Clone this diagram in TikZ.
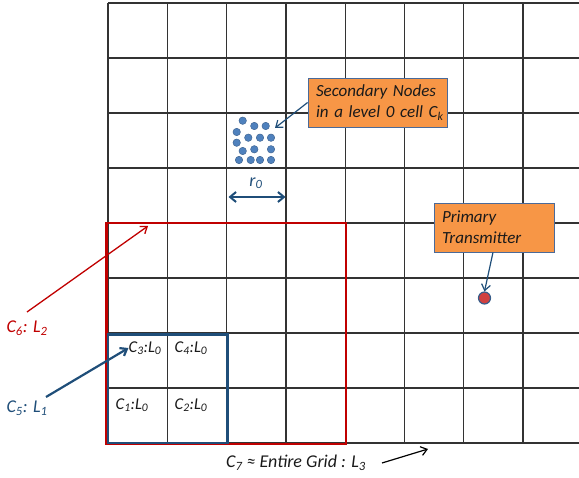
\documentclass[tikz,border=0pt]{standalone}
\usepackage{fontspec}
\setmainfont{Carlito}
\usetikzlibrary{arrows.meta}
\definecolor{gridc}{HTML}{333333}
\definecolor{boxor}{HTML}{F79646}
\definecolor{boxbd}{HTML}{4A6A99}
\definecolor{dotb}{HTML}{4F81BD}
\definecolor{dotbd}{HTML}{385D8A}
\definecolor{darkblue}{HTML}{1F4E79}
\definecolor{redc}{HTML}{C00000}
\definecolor{txt}{HTML}{1A1A1A}
\tikzset{
  gridline/.style={draw=gridc,line width=1.3pt},
  callout/.style={draw=boxbd,fill=boxor,line width=0.8pt,align=left,text=txt,font=\fontsize{17}{21}\selectfont\itshape,inner sep=0pt,anchor=center},
  sdot/.style={circle,fill=dotb,draw=dotbd,line width=0.4pt,minimum size=7.5pt,inner sep=0pt},
  celllab/.style={text=txt,font=\fontsize{16.5}{18}\selectfont\itshape,inner sep=0pt},
  arrow/.style={-{Straight Barb[length=6pt,width=9pt]},line width=1.3pt},
}
\begin{document}
\begin{tikzpicture}[x=1pt,y=-1pt]
\useasboundingbox (0,0) rectangle (579,478);
% grid
\foreach \k in {0,...,7} {\draw[gridline] ({108+59.3*\k},3) -- ({108+59.3*\k},443);}
\foreach \k in {0,...,8} {\draw[gridline] (108,{3+55*\k}) -- (579,{3+55*\k});}
% red and blue boxes
\draw[draw=redc,line width=2.6pt] (106.5,223) rectangle (346,444);
\draw[draw=darkblue,line width=2.2pt] (108,334.5) rectangle (227.5,443);
% secondary nodes
\foreach \n/\x/\y in {1/242.7/120.7,2/254.3/126,3/265.7/126,4/236.7/132,5/248.3/137.7,6/260/137.7,7/271/137.7,8/236.7/142.7,9/242.7/151,10/254.3/149.3,11/271/149.3,12/239/160,13/250.7/160,14/260/160,15/271/160}
  {\node[sdot] (s\n) at (\x,\y) {};}
\node[callout,minimum width=139pt,minimum height=49pt,text width=123pt] (sec) at (377.5,102.5) {\mbox{Secondary Nodes}\\\mbox{in a level 0 cell C\textsubscript{k}}};
\coordinate (secend) at (275,128);
\draw[arrow,darkblue,line width=1.2pt] (sec.west) -- (secend);
% r0
\coordinate (ra) at (228.5,197);
\coordinate (rb) at (285.5,197);
\draw[{Straight Barb[length=6pt,width=10pt]}-{Straight Barb[length=6pt,width=10pt]},darkblue,line width=2pt] (ra) -- (rb);
\node[text=darkblue,font=\fontsize{18}{20}\selectfont\itshape,inner sep=0pt] (r0) at (256,183) {r\textsubscript{0}};
% primary transmitter
\node[callout,minimum width=120pt,minimum height=49pt,text width=104pt] (prim) at (494,227.5) {Primary\\Transmitter};
\node[circle,fill=redc!75!white,draw=dotbd,line width=1.2pt,minimum size=12pt,inner sep=0pt] (tx) at (484.5,298) {};
\draw[arrow,darkblue,line width=1.2pt] (prim.south) ++(-1,0) -- (tx.north);
% cell labels
\node[celllab] (c3) at (145,348) {C\textsubscript{3}:L\textsubscript{0}};
\node[celllab] (c4) at (191,348) {C\textsubscript{4}:L\textsubscript{0}};
\node[celllab] (c1) at (132,405) {C\textsubscript{1}:L\textsubscript{0}};
\node[celllab] (c2) at (191,405) {C\textsubscript{2}:L\textsubscript{0}};
% C6 and C5 labels
\node[text=redc,font=\fontsize{18}{20}\selectfont\itshape,inner sep=0pt] (c6) at (27,328) {C\textsubscript{6}: L\textsubscript{2}};
\coordinate (c6s) at (27,312);
\coordinate (c6e) at (148,226);
\draw[arrow,redc,line width=1.3pt] (c6s) -- (c6e);
\node[text=darkblue,font=\fontsize{18}{20}\selectfont\itshape,inner sep=0pt] (c5) at (27,408) {C\textsubscript{5}: L\textsubscript{1}};
\coordinate (c5s) at (46,397);
\draw[arrow,darkblue,line width=2.2pt] (c5s) -- (c3.west);
% C7
\node[text=txt,font=\fontsize{18}{20}\selectfont\itshape,inner sep=0pt] (c7) at (296,463) {C\textsubscript{7} ≈ Entire Grid : L\textsubscript{3}};
\coordinate (c7s) at (382,463);
\coordinate (c7e) at (428,449);
\draw[arrow,black,line width=1.2pt] (c7s) -- (c7e);
\end{tikzpicture}
\end{document}
